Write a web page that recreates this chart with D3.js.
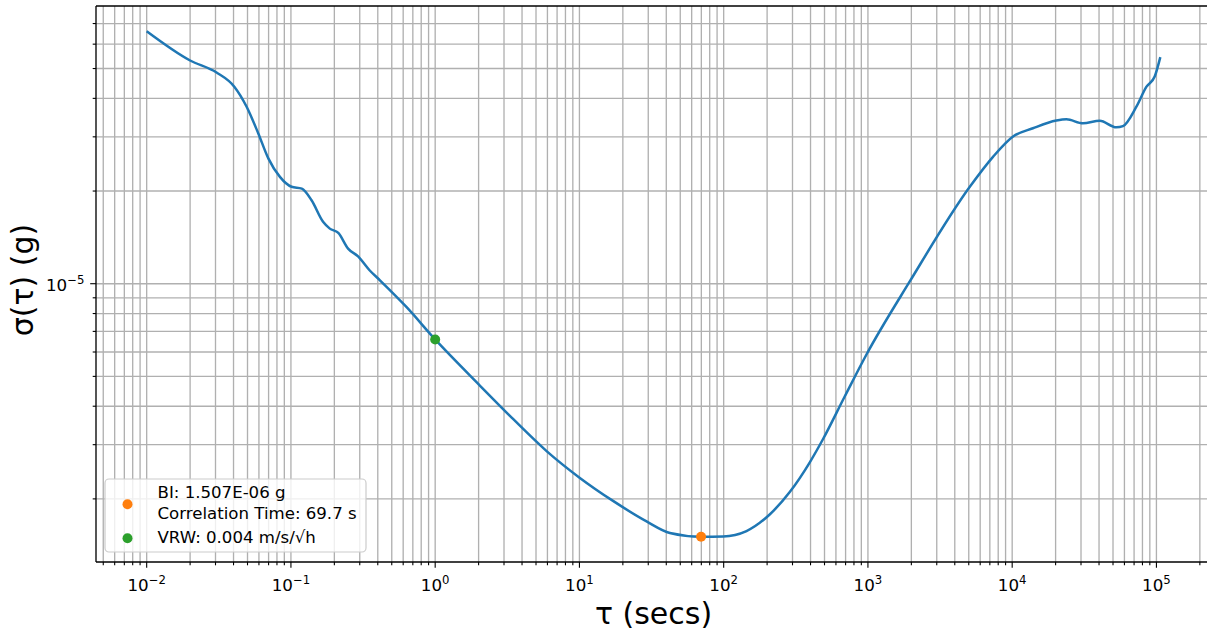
<!DOCTYPE html>
<html>
<head>
<meta charset="utf-8">
<script src="https://cdn.jsdelivr.net/npm/d3@7"></script>
<style>
body { margin: 0; background: #fff; }
svg text { font-family: "DejaVu Sans", sans-serif; fill: #000; }
</style>
</head>
<body>
<div id="chart"></div>
<script>
const WIDTH = 1207;
const HEIGHT = 633;

// allan deviation (tau in s, sigma in g)
const tau = [0.01, 0.02, 0.0305, 0.0405, 0.0493, 0.0593, 0.0697, 0.0839, 0.101, 0.119,
    0.139, 0.167, 0.186, 0.213, 0.249, 0.292, 0.352, 0.414, 0.634, 1.0,
    2.04, 3.48, 5.92, 10.07, 17.1, 29.2, 42.4, 69.7, 99.1, 143.9,
    208.4, 287.1, 395.4, 488.7, 690.2, 977, 1950, 5070, 7362, 10140,
    13930, 20230, 23770, 30970, 40460, 52720, 58610, 72610, 85310, 97270, 106400];
const sigma = [66.07e-6, 53.09e-6, 48.53e-6, 43.65e-6, 37.58e-6, 30.83e-6, 25.53e-6, 22.23e-6, 20.65e-6, 20.37e-6,
    18.66e-6, 15.89e-6, 15.10e-6, 14.62e-6, 13.00e-6, 12.27e-6, 11.04e-6, 10.26e-6, 8.39e-6, 6.59e-6,
    4.67e-6, 3.63e-6, 2.86e-6, 2.34e-6, 1.97e-6, 1.69e-6, 1.55e-6, 1.507e-6, 1.51e-6, 1.572e-6,
    1.78e-6, 2.105e-6, 2.63e-6, 3.13e-6, 4.30e-6, 5.89e-6, 10.17e-6, 20.6e-6, 25.82e-6, 30.06e-6,
    31.99e-6, 33.88e-6, 34.20e-6, 33.19e-6, 33.81e-6, 32.21e-6, 32.51e-6, 37.58e-6, 43.65e-6, 47.10e-6, 54.45e-6];

const markTau = [69.7, 1.0];
const markSigma = [1.507e-6, 6.59e-6];
const markColors = ['#ff7f0e', '#2ca02c'];
const legendLines = [["BI: 1.507E-06 g", "Correlation Time: 69.7 s"], ["VRW: 0.004 m/s/√h"]];

const xExps = [-3, -2, -1, 0, 1, 2, 3, 4, 5];
const yExps = [-6, -5, -4];

const X0 = 96, X1 = 1211, Y0 = 6, Y1 = 562;

const logPad = (vals) => {
    const e = d3.extent(vals, v => Math.log10(v));
    const p = (e[1] - e[0]) * 0.05;
    return [Math.pow(10, e[0] - p), Math.pow(10, e[1] + p)];
};

const xScale = d3.scaleLog().domain(logPad(tau)).range([X0, X1]);
const yScale = d3.scaleLog().domain(logPad(sigma)).range([Y1, Y0]);

const inX = v => v >= xScale.domain()[0] && v <= xScale.domain()[1];
const inY = v => v >= yScale.domain()[0] && v <= yScale.domain()[1];

const xMajor = xExps.map(e => Math.pow(10, e)).filter(inX);
const yMajor = yExps.map(e => Math.pow(10, e)).filter(inY);
const xMinor = [], yMinor = [];
xExps.forEach(e => d3.range(2, 10).forEach(k => { const v = k * Math.pow(10, e); if (inX(v)) xMinor.push(v); }));
yExps.forEach(e => d3.range(2, 10).forEach(k => { const v = k * Math.pow(10, e); if (inY(v)) yMinor.push(v); }));

var svg = d3.select("#chart").append("svg")
    .attr("width", WIDTH)
    .attr("height", HEIGHT);

// grid, major and minor
const grid = svg.append("g").attr("stroke", "#b0b0b0").attr("stroke-width", 1.33);
grid.selectAll(".gx").data(xMajor.concat(xMinor)).enter().append("line")
    .attr("x1", d => xScale(d)).attr("x2", d => xScale(d))
    .attr("y1", Y0).attr("y2", Y1);
grid.selectAll(".gy").data(yMajor.concat(yMinor)).enter().append("line")
    .attr("x1", X0).attr("x2", X1)
    .attr("y1", d => yScale(d)).attr("y2", d => yScale(d));

// curve
var line = d3.line()
    .x((d, i) => xScale(tau[i]))
    .y(d => yScale(d))
    .curve(d3.curveMonotoneX);

svg.append("path")
    .datum(sigma)
    .attr("fill", "none")
    .attr("stroke", "#1f77b4")
    .attr("stroke-width", 2.5)
    .attr("stroke-linejoin", "round")
    .attr("d", line);

svg.selectAll(".mark").data(markTau).enter().append("circle")
    .attr("cx", d => xScale(d))
    .attr("cy", (d, i) => yScale(markSigma[i]))
    .attr("r", 5)
    .attr("fill", (d, i) => markColors[i]);

// spines
svg.append("line").attr("x1", X0).attr("x2", X0).attr("y1", Y0).attr("y2", Y1)
    .attr("stroke", "#000").attr("stroke-width", 1.33);
svg.append("line").attr("x1", X0).attr("x2", X1).attr("y1", Y1).attr("y2", Y1)
    .attr("stroke", "#000").attr("stroke-width", 1.33);
svg.append("line").attr("x1", X0).attr("x2", X1).attr("y1", Y0).attr("y2", Y0)
    .attr("stroke", "#000").attr("stroke-width", 1.33);

// ticks
const ticks = svg.append("g").attr("stroke", "#000").attr("stroke-width", 1.1);
ticks.selectAll(".tx").data(xMajor).enter().append("line")
    .attr("x1", d => xScale(d)).attr("x2", d => xScale(d)).attr("y1", Y1).attr("y2", Y1 + 5.8);
ticks.selectAll(".txm").data(xMinor).enter().append("line")
    .attr("x1", d => xScale(d)).attr("x2", d => xScale(d)).attr("y1", Y1).attr("y2", Y1 + 3.3);
ticks.selectAll(".ty").data(yMajor).enter().append("line")
    .attr("y1", d => yScale(d)).attr("y2", d => yScale(d)).attr("x1", X0).attr("x2", X0 - 5.8);
ticks.selectAll(".tym").data(yMinor).enter().append("line")
    .attr("y1", d => yScale(d)).attr("y2", d => yScale(d)).attr("x1", X0).attr("x2", X0 - 3.3);

const powLabel = (sel) => {
    sel.append("tspan").text("10");
    sel.append("tspan").attr("dy", -6.5).attr("font-size", "11.7px")
        .text(d => String(Math.round(Math.log10(d))).replace("-", "\u2212"));
};

svg.selectAll(".lx").data(xMajor).enter().append("text")
    .attr("x", d => xScale(d))
    .attr("y", 590.5)
    .attr("text-anchor", "middle")
    .attr("font-size", "16.7px")
    .attr("fill", "#111")
    .call(powLabel);

svg.selectAll(".ly").data(yMajor).enter().append("text")
    .attr("x", X0 - 11.6)
    .attr("y", d => yScale(d) + 7)
    .attr("text-anchor", "end")
    .attr("font-size", "16.7px")
    .attr("fill", "#111")
    .call(powLabel);

// axis labels
svg.append("text")
    .attr("x", (X0 + X1) / 2)
    .attr("y", 624)
    .attr("text-anchor", "middle")
    .attr("font-size", "30px")
    .attr("fill", "#111")
    .text("τ (secs)");

svg.append("text")
    .attr("transform", "translate(33,280) rotate(-90)")
    .attr("text-anchor", "middle")
    .attr("font-size", "30px")
    .attr("fill", "#111")
    .text("σ(τ) (g)");

// legend
const legend = svg.append("g");
legend.append("rect")
    .attr("x", 105).attr("y", 479)
    .attr("width", 261).attr("height", 73)
    .attr("rx", 4)
    .attr("fill", "#fff").attr("fill-opacity", 0.8)
    .attr("stroke", "#cccccc").attr("stroke-width", 1.2);

const legendMarkY = [504.3, 538.3];
const legendBase = [[497.5, 518.5], [543.3]];
legendLines.forEach((lines, i) => {
    legend.append("circle")
        .attr("cx", 127.5).attr("cy", legendMarkY[i]).attr("r", 5)
        .attr("fill", markColors[i]);
    lines.forEach((t, j) => {
        legend.append("text")
            .attr("x", 157.5).attr("y", legendBase[i][j])
            .attr("font-size", "16.6px")
            .attr("fill", "#222")
            .text(t);
    });
});
</script>
</body>
</html>
